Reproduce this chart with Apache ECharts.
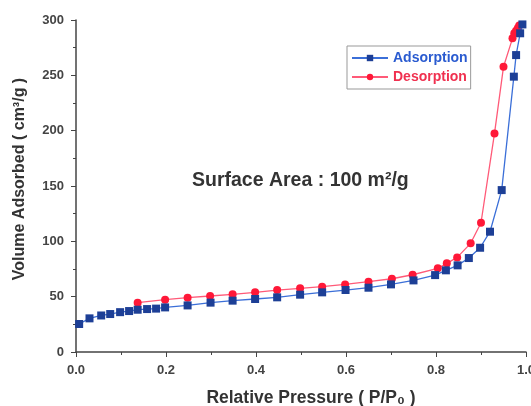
<!DOCTYPE html>
<html>
<head>
<meta charset="utf-8">
<script src="https://cdn.jsdelivr.net/npm/echarts@6/dist/echarts.min.js"></script>
<style>
  html, body { margin: 0; padding: 0; background: #fff; }
  #chart { width: 531px; height: 406px; }
</style>
</head>
<body>
<div id="chart"></div>
<script>
// adsorption branch (P/P0, volume)
const adsX = [0.007, 0.03, 0.056, 0.076, 0.098, 0.118, 0.137, 0.158, 0.178, 0.198, 0.248, 0.299, 0.348, 0.398,
  0.447, 0.498, 0.547, 0.599, 0.65, 0.7, 0.75, 0.798, 0.822, 0.848, 0.873, 0.898, 0.92, 0.946, 0.973, 0.978, 0.987, 0.992]
const adsY = [25.3, 30.4, 33, 34.3, 36, 37, 38.2, 38.8, 39.2, 40.3, 42.1, 44.6, 46.4, 47.9,
  49.4, 51.8, 53.9, 56, 58.1, 61.1, 64.7, 69.5, 73.8, 78.3, 84.9, 94.2, 108.7, 146.3, 248.8, 268.3, 288, 296]

// desorption branch
const desX = [0.137, 0.198, 0.248, 0.298, 0.348, 0.398, 0.447, 0.498, 0.547, 0.598, 0.65, 0.702, 0.748,
  0.804, 0.824, 0.847, 0.877, 0.9, 0.93, 0.95, 0.97, 0.974, 0.978, 0.982, 0.985]
const desY = [44.6, 47.3, 49.1, 50.6, 52.1, 53.9, 56, 57.5, 59, 61.1, 63.5, 66.2, 69.8,
  75.6, 80.1, 85.5, 98.2, 116.8, 197.5, 257.7, 283.4, 288, 290.3, 292.8, 295]

const chart = echarts.init(document.getElementById('chart'))

const axisColor = '#444'
const labelFont = { fontFamily: 'Liberation Sans, Arial, sans-serif', fontWeight: 'bold' }

const option = {
  animation: false,
  backgroundColor: '#fff',
  grid: { left: 76, right: 5, top: 20, bottom: 54, outerBoundsMode: 'none' },
  legend: {
    orient: 'vertical',
    left: 347,
    top: 46,
    padding: [5, 3, 5, 4],
    itemWidth: 36,
    itemHeight: 8,
    itemGap: 5,
    borderColor: '#999',
    borderWidth: 1,
    textStyle: Object.assign({ fontSize: 14 }, labelFont),
    data: [
      { name: 'Adsorption', textStyle: { color: '#2a5bd0' } },
      { name: 'Desorption', textStyle: { color: '#f0304f' } }
    ]
  },
  graphic: [{
    type: 'text',
    left: 192,
    top: 171,
    style: Object.assign({ text: 'Surface Area : 100 m²/g', fontSize: 19.5, fill: '#333' }, labelFont)
  }],
  xAxis: {
    type: 'value',
    min: 0, max: 1, interval: 0.2,
    name: 'Relative Pressure ( P/P₀ )',
    nameLocation: 'middle',
    nameGap: 37,
    nameTextStyle: Object.assign({ fontSize: 17.5, color: '#333', padding: [0, 0, 0, 20] }, labelFont),
    axisLine: { show: true, lineStyle: { color: axisColor, width: 1.5 } },
    axisTick: { show: true, inside: false, length: 5, lineStyle: { color: axisColor } },
    minorTick: { show: true, splitNumber: 2, length: 3, lineStyle: { color: axisColor } },
    splitLine: { show: false },
    axisLabel: Object.assign({ fontSize: 13, color: '#444', margin: 12, formatter: v => v.toFixed(1) }, labelFont)
  },
  yAxis: {
    type: 'value',
    min: 0, max: 300, interval: 50,
    name: 'Volume Adsorbed ( cm³/g )',
    nameLocation: 'middle',
    nameGap: 48,
    nameTextStyle: Object.assign({ fontSize: 16, color: '#333', padding: [0, 0, 0, 14] }, labelFont),
    axisLine: { show: true, lineStyle: { color: axisColor, width: 1.5 } },
    axisTick: { show: true, inside: false, length: 5, lineStyle: { color: axisColor } },
    minorTick: { show: true, splitNumber: 2, length: 3, lineStyle: { color: axisColor } },
    splitLine: { show: false },
    axisLabel: Object.assign({ fontSize: 13, color: '#444', margin: 12 }, labelFont)
  },
  series: [
    {
      name: 'Adsorption',
      type: 'line',
      data: adsX.map((x, i) => [x, adsY[i]]),
      symbol: 'rect',
      symbolSize: 8,
      lineStyle: { color: '#3b6fd8', width: 1.3 },
      itemStyle: { color: '#1d3f96' },
      z: 3
    },
    {
      name: 'Desorption',
      type: 'line',
      data: desX.map((x, i) => [x, desY[i]]),
      symbol: 'circle',
      symbolSize: 8,
      lineStyle: { color: '#ff5a78', width: 1.3 },
      itemStyle: { color: '#ff1838' },
      z: 2
    }
  ]
}

chart.setOption(option)
</script>
</body>
</html>
